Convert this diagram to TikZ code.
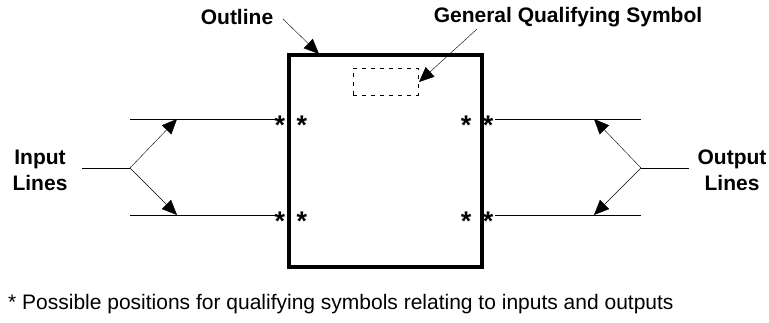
\documentclass[tikz,border=0pt]{standalone}
\usepackage{fontspec}
\setmainfont{Liberation Sans}
\usetikzlibrary{arrows.meta}

\begin{document}
\begin{tikzpicture}[x=1pt,y=-1pt,
    font=\fontsize{21}{26}\selectfont,
    >={Triangle[length=15pt,width=13pt]}]

        \useasboundingbox (0,0) rectangle (769,322);

        % outline and general qualifying symbol
        \node[draw,line width=3.2pt,minimum width=193pt,minimum height=212pt] (box) at (385.5,161) {};
        \node[draw,thin,dash pattern=on 4pt off 5pt,minimum width=65pt,minimum height=27pt] (gqs) at (385.5,81.5) {};

        \begin{scope}[every node/.style={font=\fontsize{21}{26}\selectfont\bfseries,align=center}]
          \node (outline) at (237,17)  {Outline};
          \node (general) at (568,17)  {General Qualifying Symbol};
          \node (input)   at (40,170)  {Input\\Lines};
          \node (output)  at (732,170) {Output\\Lines};
        \end{scope}

        % line end points
        \coordinate (in0)  at (82,168);
        \coordinate (inb)  at (130,168);
        \coordinate (in1)  at (130,119);
        \coordinate (in1e) at (275,119);
        \coordinate (in2)  at (130,215);
        \coordinate (in2e) at (275,215);
        \coordinate (out0) at (689,168);
        \coordinate (outb) at (641,168);
        \coordinate (out1) at (641,119);
        \coordinate (out1e) at (495,119);
        \coordinate (out2) at (641,215);
        \coordinate (out2e) at (495,215);

        \begin{scope}[every node/.style={inner sep=0pt,font=\fontsize{27}{27}\selectfont\bfseries}]
          \node (a1) at (280,125) {*};
          \node (a2) at (302,125) {*};
          \node (a3) at (280,221) {*};
          \node (a4) at (302,221) {*};
          \node (b1) at (466,125) {*};
          \node (b2) at (488,125) {*};
          \node (b3) at (466,221) {*};
          \node (b4) at (488,221) {*};
        \end{scope}

        \begin{scope}[thin]
          \draw (in1) -- (in1e);
          \draw (in2) -- (in2e);
          \draw (out1) -- (out1e);
          \draw (out2) -- (out2e);
          \draw (in0) -- (inb);
          \draw (out0) -- (outb);
          \draw[->] (inb) -- (177,119);
          \draw[->] (inb) -- (177,215);
          \draw[->] (outb) -- (594,119);
          \draw[->] (outb) -- (594,215);
          \draw[->] (283,19) -- (319,54);
          \draw[->] (477,29) -- (419,82);
        \end{scope}

        \node[anchor=west,inner sep=0pt] (note) at (8,304) {* Possible positions for qualifying symbols relating to inputs and outputs};

      \end{tikzpicture}
\end{document}
